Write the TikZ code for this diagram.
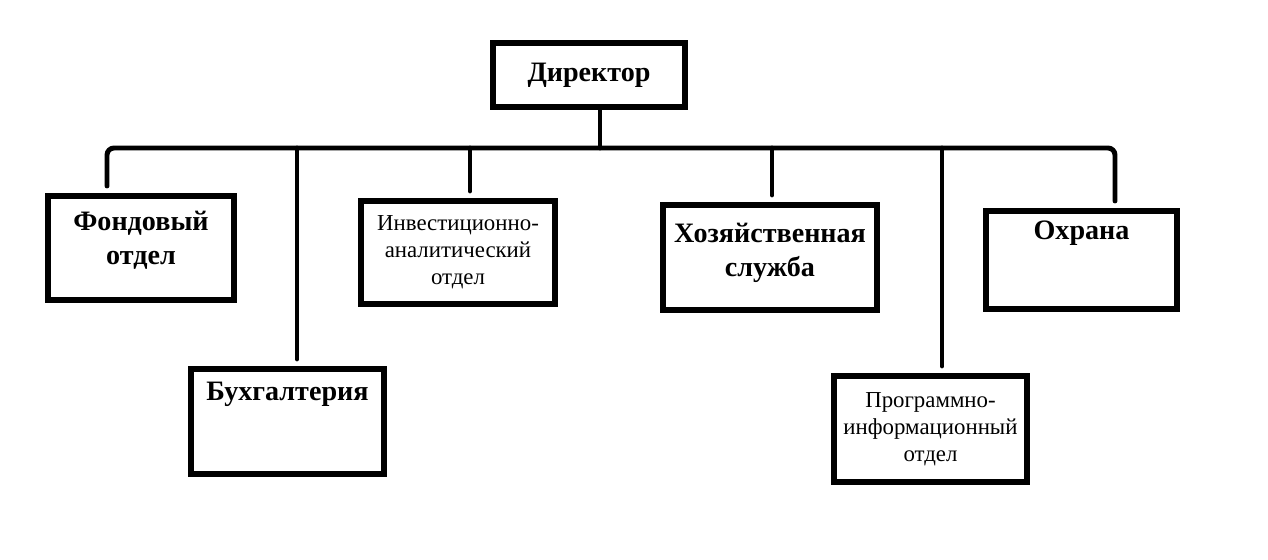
\documentclass[tikz,border=0pt]{standalone}
\usepackage{fontspec}
\setmainfont{Liberation Serif}
\usetikzlibrary{positioning}

\tikzset{
  unit/.style={draw, line width=3.4pt, rectangle, align=center, inner sep=2pt},
  bigtext/.style={font=\fontsize{16}{19.5}\selectfont\bfseries},
  smalltext/.style={font=\fontsize{13}{15.4}\selectfont},
  toptext/.style={text depth=1.2cm},
  link/.style={line width=2.8pt, line cap=round},
  drop/.style={link, shorten >=4pt}
}

\begin{document}
\begin{tikzpicture}[x=0.02cm, y=-0.02cm]
            \useasboundingbox (0,0) rectangle (1268,560);
            \node (dir) at (589,75) [unit, bigtext, minimum width=3.84cm, minimum height=1.28cm]{Директор};
            \node (fond) at (141,248) [unit, bigtext, text depth=0.4cm, minimum width=3.72cm, minimum height=2.08cm]{Фондовый\\отдел};
            \node (buh) at (287.5,421.5) [unit, bigtext, toptext, minimum width=3.86cm, minimum height=2.1cm]{Бухгалтерия};
            \node (inv) at (458,252.5) [unit, smalltext, minimum width=3.88cm, minimum height=2.06cm]{Инвестиционно-\\аналитический\\отдел};
            \node (hoz) at (770,257.5) [unit, bigtext, text depth=0.32cm, minimum width=4.28cm, minimum height=2.1cm]{Хозяйственная\\служба};
            \node (prog) at (930.5,429) [unit, smalltext, minimum width=3.86cm, minimum height=2.12cm]{Программно-\\информационный\\отдел};
            \node (ohr) at (1081.5,260) [unit, bigtext, toptext, minimum width=3.82cm, minimum height=1.96cm]{Охрана};

            % bus line
            \coordinate (busL) at (107,148);
            \coordinate (busR) at (1115,148);
            \coordinate (jDir) at (600,148);
            \coordinate (jBuh) at (297,148);
            \coordinate (jInv) at (470,148);
            \coordinate (jHoz) at (772,148);
            \coordinate (jProg) at (942,148);
            \draw[link] (dir.south -| jDir) -- (jDir);
            \draw[link, rounded corners=4pt, shorten <=4pt, shorten >=4pt] (fond.north -| busL) |- (busR) -- (ohr.north -| busR);
            \draw[drop] (jBuh) -- (jBuh |- buh.north);
            \draw[drop] (jInv) -- (jInv |- inv.north);
            \draw[drop] (jHoz) -- (jHoz |- hoz.north);
            \draw[drop] (jProg) -- (jProg |- prog.north);

        \end{tikzpicture}
\end{document}
